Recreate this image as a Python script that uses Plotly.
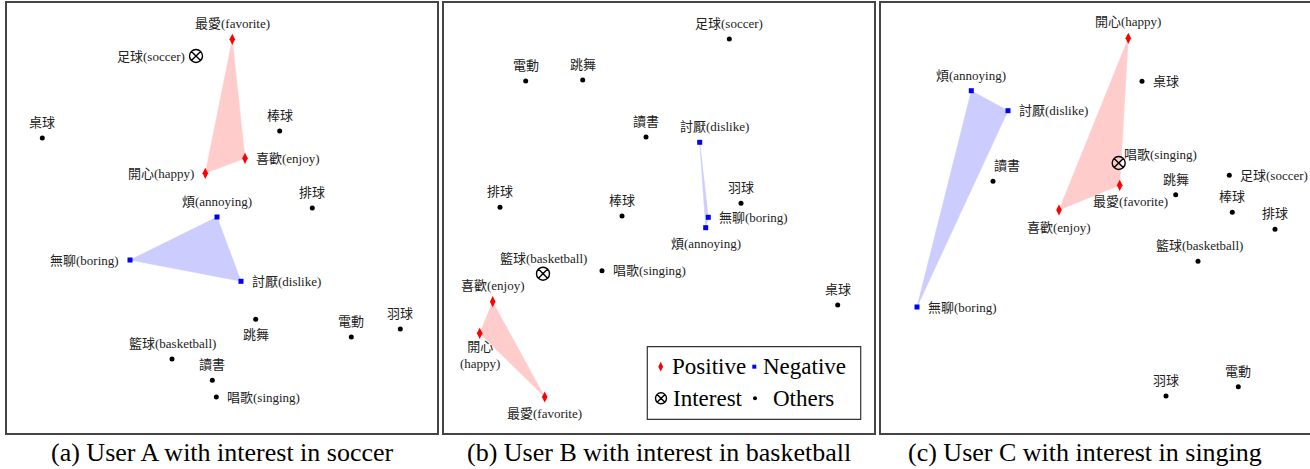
import plotly.graph_objects as go

# ---------------- data (panel-local coordinates, y measured downward) -------------
a_words = ["最愛(favorite)", "足球(soccer)", "桌球", "棒球", "喜歡(enjoy)", "開心(happy)", "排球",
           "煩(annoying)", "無聊(boring)", "討厭(dislike)", "跳舞", "電動", "羽球",
           "籃球(basketball)", "讀書", "唱歌(singing)"]
a_x = [225.3, 189.0, 35.3, 272.7, 238.0, 198.3, 305.3, 210.0, 123.0, 234.0, 248.7, 344.3, 393.3, 165.0, 205.3, 209.3]
a_y = [36.3, 53.0, 135.0, 128.0, 155.3, 170.3, 205.0, 214.0, 257.0, 278.3, 316.3, 334.0, 326.0, 356.0, 377.3, 394.0]
a_kind = ["pos", "int", "oth", "oth", "pos", "pos", "oth", "neg", "neg", "neg", "oth", "oth", "oth", "oth", "oth", "oth"]

b_words = ["足球(soccer)", "電動", "跳舞", "讀書", "討厭(dislike)", "排球", "棒球", "羽球",
           "無聊(boring)", "煩(annoying)", "籃球(basketball)", "唱歌(singing)", "喜歡(enjoy)",
           "開心<br>(happy)", "最愛(favorite)", "桌球"]
b_x = [285.3, 81.7, 138.7, 202.0, 255.7, 56.0, 178.0, 297.0, 264.3, 261.7, 99.0, 158.0, 48.7, 35.7, 100.7, 393.7]
b_y = [36.0, 78.0, 77.0, 134.0, 139.3, 204.3, 213.0, 200.3, 214.3, 224.7, 270.7, 267.7, 298.7, 330.3, 394.0, 302.0]
b_kind = ["oth", "oth", "oth", "oth", "neg", "oth", "oth", "oth", "neg", "neg", "int", "oth", "pos", "pos", "pos", "oth"]

c_words = ["開心(happy)", "桌球", "煩(annoying)", "討厭(dislike)", "讀書", "唱歌(singing)", "最愛(favorite)",
           "喜歡(enjoy)", "跳舞", "足球(soccer)", "棒球", "排球", "籃球(basketball)", "無聊(boring)", "羽球", "電動"]
c_x = [247.3, 261.0, 90.3, 127.0, 112.0, 237.7, 238.7, 178.0, 294.7, 348.3, 351.3, 394.0, 317.0, 36.0, 285.0, 357.3]
c_y = [35.3, 78.3, 87.7, 107.7, 178.3, 160.0, 182.3, 207.0, 191.7, 172.3, 209.3, 226.3, 258.3, 304.0, 393.0, 383.7]
c_kind = ["pos", "oth", "neg", "neg", "oth", "int", "pos", "pos", "oth", "oth", "oth", "oth", "oth", "neg", "oth", "oth"]

captions = ["(a) User A with interest in soccer",
            "(b) User B with interest in basketball",
            "(c) User C with interest in singing"]
legend_labels = ["Positive", "Negative", "Interest", "Others"]

# ---------------- label placement (style) ----------------
# (xanchor, xshift, yshift)
T = ("center", 0, 15.5)
B = ("center", 0, -15.5)
L = ("right", -9, 0)
R = ("left", 9, 0)
a_lab = [T, L, T, T, R, L, T, T, L, R, B, T, T, T, T, R]
b_lab = [T, T, T, T, ("center", 15, 15.5), T, T, T, R, ("center", 0, -16), T, R, ("center", 0, 16.5),
         ("center", 0, -21.5), ("center", 0, -16.3), T]
c_lab = [("center", 0, 16.5), R, T, R, ("center", 14, 15.5), ("left", 3, 8.5), ("center", 11, -16.3),
         ("center", 0, -17.3), T, R, T, T, ("center", 1, 15.5), R, T, T]

W, H = 1310, 469
panels = [
    dict(words=a_words, x=a_x, y=a_y, kind=a_kind, lab=a_lab, left=7, right=437, xr=430),
    dict(words=b_words, x=b_x, y=b_y, kind=b_kind, lab=b_lab, left=444, right=874, xr=430),
    dict(words=c_words, x=c_x, y=c_y, kind=c_kind, lab=c_lab, left=881, right=1310, xr=429),
]
caption_span = [(47, 398), (462, 855), (892, 1277)]
top, bottom = 3, 433

FONT = "'Liberation Serif', 'Times New Roman', 'Noto Sans CJK TC', serif"
styles = {
    "pos": dict(symbol="diamond-tall", size=8, color="#ff0000"),
    "neg": dict(symbol="square", size=5, color="#0000ff"),
    "int": dict(symbol="circle-x-open", size=13, color="#000000", line=dict(width=1.4, color="#000000")),
    "oth": dict(symbol="circle", size=5, color="#000000"),
}
fills = {"pos": "#ffcccc", "neg": "#ccccff"}

fig = go.Figure()
annotations = []
layout = {}

for i, p in enumerate(panels):
    n = "" if i == 0 else str(i + 1)
    xa, ya = "x" + n, "y" + n
    # polygons
    for k in ("pos", "neg"):
        px = [xv for xv, kk in zip(p["x"], p["kind"]) if kk == k]
        py = [yv for yv, kk in zip(p["y"], p["kind"]) if kk == k]
        fig.add_trace(go.Scatter(x=px + px[:1], y=py + py[:1], mode="lines", fill="toself",
                                 fillcolor=fills[k], line=dict(color=fills[k], width=0.5),
                                 hoverinfo="skip", showlegend=False, xaxis=xa, yaxis=ya))
    # markers
    for k in ("oth", "neg", "pos", "int"):
        px = [xv for xv, kk in zip(p["x"], p["kind"]) if kk == k]
        py = [yv for yv, kk in zip(p["y"], p["kind"]) if kk == k]
        fig.add_trace(go.Scatter(x=px, y=py, mode="markers", marker=styles[k],
                                 showlegend=False, xaxis=xa, yaxis=ya))
    # labels
    for w, xv, yv, (anc, xs, ys) in zip(p["words"], p["x"], p["y"], p["lab"]):
        annotations.append(dict(x=xv, y=yv, xref=xa, yref=ya, text=w, showarrow=False,
                                xanchor=anc, yanchor="middle", xshift=xs, yshift=ys,
                                font=dict(family=FONT, size=13, color="#222")))
    layout["xaxis" + n] = dict(domain=[p["left"] / W, p["right"] / W], range=[0, p["xr"]],
                               showgrid=False, zeroline=False, showticklabels=False, ticks="",
                               showline=True, mirror=True, linecolor="#444", linewidth=1.5,
                               anchor=ya, fixedrange=True)
    layout["yaxis" + n] = dict(domain=[1 - bottom / H, 1 - top / H], range=[430, 0],
                               showgrid=False, zeroline=False, showticklabels=False, ticks="",
                               showline=True, mirror=(i < 2), linecolor="#444", linewidth=1.5,
                               anchor=xa, fixedrange=True)
    cx = (caption_span[i][0] + caption_span[i][1]) / 2 / W
    annotations.append(dict(x=cx, y=1 - 452 / H, xref="paper", yref="paper", text=captions[i],
                            showarrow=False, xanchor="center", yanchor="middle", borderpad=0,
                            font=dict(family=FONT, size=26, color="#000")))

# ---------------- legend (inside panel b) ----------------
leg_sym_x = [216.7, 310.3, 217.0, 311.0]
leg_sym_y = [363.7, 363.7, 395.3, 395.3]
leg_txt_x = [227.7, 318.7, 229.0, 328.7]
leg_kinds = ["pos", "neg", "int", "oth"]
leg_sizes = [7, 4, 11, 4]
fig.add_shape(type="rect", xref="x2", yref="y2", x0=203.3, x1=416.7, y0=343.7, y1=416.3,
              line=dict(color="#333", width=1.2), fillcolor="white", layer="below")
for k, sx, sy, tx, sz, lab in zip(leg_kinds, leg_sym_x, leg_sym_y, leg_txt_x, leg_sizes, legend_labels):
    st = dict(styles[k])
    st["size"] = sz
    fig.add_trace(go.Scatter(x=[sx], y=[sy], mode="markers", marker=st, showlegend=False,
                             xaxis="x2", yaxis="y2"))
    annotations.append(dict(x=tx, y=sy, xref="x2", yref="y2", text=lab, showarrow=False,
                            xanchor="left", yanchor="middle", xshift=-2,
                            font=dict(family=FONT, size=23, color="#000")))

fig.update_layout(width=W, height=H, margin=dict(l=0, r=0, t=0, b=0),
                  paper_bgcolor="white", plot_bgcolor="white", showlegend=False,
                  annotations=annotations, **layout)
fig.write_html("out.html", config={"displayModeBar": False},
               post_script="document.body.style.margin='0';document.body.style.overflow='hidden';")
